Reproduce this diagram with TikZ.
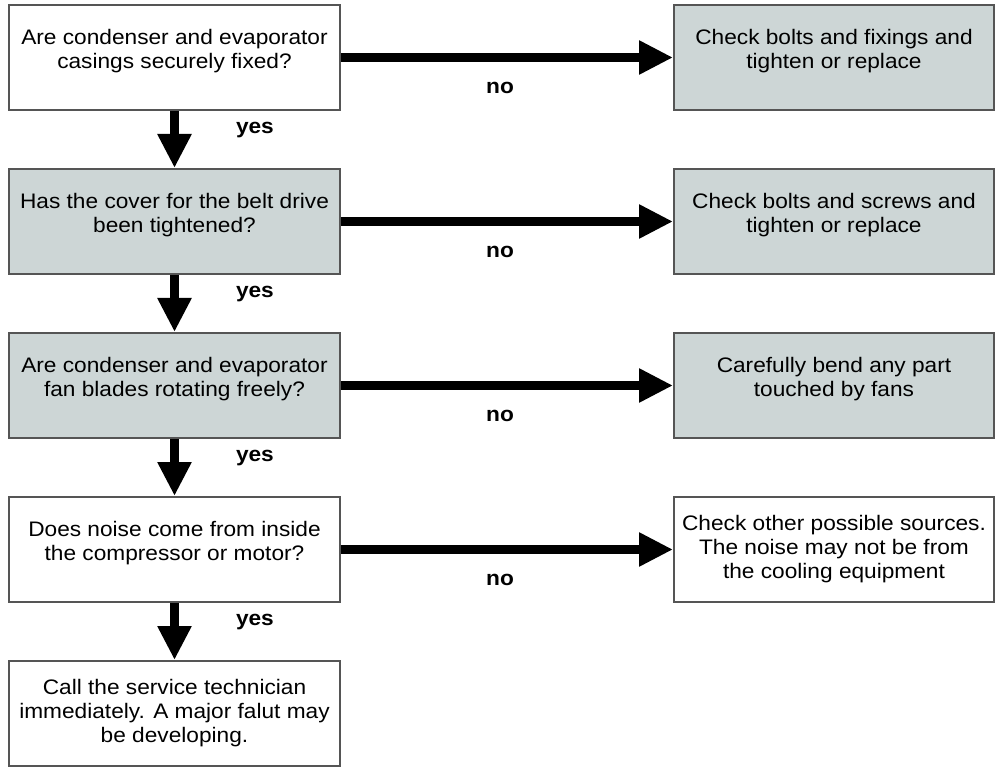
\documentclass[tikz,border=0pt]{standalone}
\usepackage{fontspec}
\setmainfont{Liberation Sans}[FakeStretch=1.08]
\usepackage{tikz}
\usetikzlibrary{positioning}
\usetikzlibrary{arrows.meta}
\usepackage{xcolor}
\definecolor{boxgray}{RGB}{205,214,214}
\definecolor{boxline}{RGB}{85,85,85}

\begin{document}
\begin{tikzpicture}[x=1pt,y=1pt,
node distance=57pt and 332pt,
qbox/.style={draw=boxline,line width=2pt,minimum width=331pt,minimum height=105pt,
  inner sep=0pt,align=center,font=\fontsize{21}{24}\selectfont},
abox/.style={qbox,minimum width=320pt},
shaded/.style={fill=boxgray},
twolines/.style={text depth=16.5pt},
arr/.style={line width=9pt,-{Triangle[width=32pt,length=34pt]}},
lbl/.style={inner sep=0pt,font=\fontsize{21}{24}\selectfont\bfseries}]
\useasboundingbox (0,0) rectangle (996,-767);

% questions down the left
\node[qbox,twolines] (q1) at (174.5,-57.5) {Are condenser and evaporator\\casings securely fixed?};
\node[qbox,shaded,twolines,below=of q1] (q2) {Has the cover for the belt drive\\been tightened?};
\node[qbox,shaded,twolines,below=of q2] (q3) {Are condenser and evaporator\\fan blades rotating freely?};
\node[qbox,twolines,below=of q3] (q4) {Does noise come from inside\\the compressor or motor?};
\node[qbox,below=of q4] (q5) {Call the service technician\\immediately. A major falut may\\be developing.};

% actions on the right
\node[abox,shaded,twolines,right=of q1] (a1) {Check bolts and fixings and\\tighten or replace};
\node[abox,shaded,twolines,right=of q2] (a2) {Check bolts and screws and\\tighten or replace};
\node[abox,shaded,twolines,right=of q3] (a3) {Carefully bend any part\\touched by fans};
\node[abox,right=of q4] (a4) {Check other possible sources.\\The noise may not be from\\the cooling equipment};

\foreach \i/\j in {1/2,2/3,3/4,4/5}
  \draw[arr] (q\i) -- (q\j) node[lbl,midway,right=57pt,yshift=9pt] {yes};
\foreach \i in {1,...,4}
  \draw[arr] (q\i) -- (a\i) node[lbl,midway,below=20pt,xshift=-7pt] {no};
\end{tikzpicture}
\end{document}
